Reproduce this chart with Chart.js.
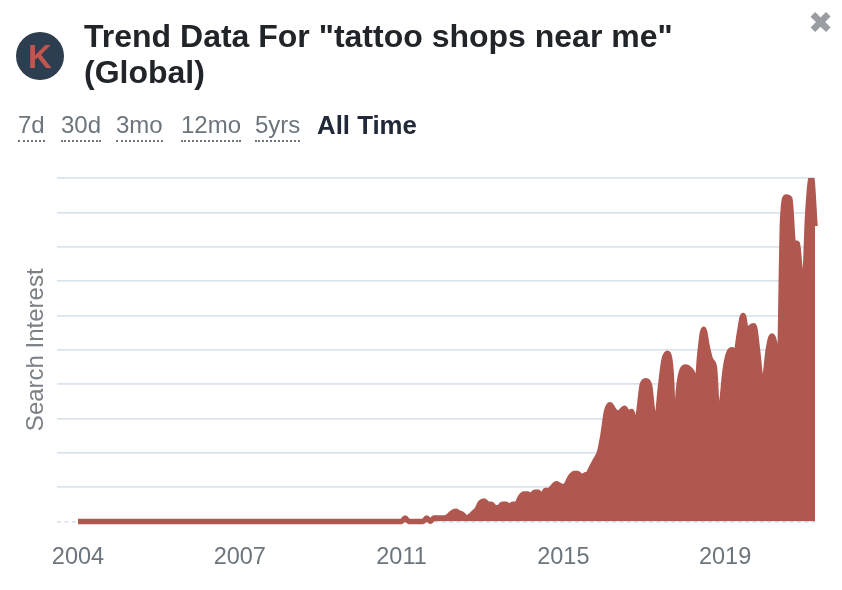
<!DOCTYPE html>
<html>
<head>
<meta charset="utf-8">
<script src="https://cdn.jsdelivr.net/npm/chart.js@4"></script>
<style>
html,body{margin:0;padding:0;background:#fff;width:842px;height:590px;overflow:hidden;font-family:"Liberation Sans",Arial,sans-serif}
#Chart1HTML{position:absolute;left:0;top:0}
.logo{position:absolute;left:16px;top:32px;width:48px;height:48px;border-radius:50%;background:#2c3e50;color:#c0564e;font-size:33px;font-weight:bold;line-height:49px;text-align:center}
h1{position:absolute;left:84px;top:18px;width:640px;margin:0;font-size:32px;line-height:36px;font-weight:bold;color:#212529}
.close{position:absolute;left:808px;top:8px;font:30px/30px "DejaVu Sans";color:#9a9da1}
.tab{position:absolute;top:110px;font-size:24px;line-height:30px;color:#6c757d;border-bottom:2px dotted #6c757d}
.on{color:#212938;font-weight:bold;font-size:25.8px;border:0}
</style>
</head>
<body>
<canvas id="Chart1HTML" width="842" height="590"></canvas>
<div class="logo">K</div>
<h1>Trend Data For "tattoo shops near me" (Global)</h1>
<div class="close">&#10006;</div>
<div class="tab" style="left:18px">7d</div>
<div class="tab" style="left:61px">30d</div>
<div class="tab" style="left:116px">3mo</div>
<div class="tab" style="left:181px">12mo</div>
<div class="tab" style="left:255px">5yrs</div>
<div class="tab on" style="left:317px">All Time</div>
<script>
const TICKYEARS=["2004","2007","2011","2015","2019"]
const TICKPOS=[0,45,90,135,180]
// monthly interest
const INTEREST=[
0,0,0,0,0,0,0,0,0,0,
0,0,0,0,0,0,0,0,0,0,
0,0,0,0,0,0,0,0,0,0,
0,0,0,0,0,0,0,0,0,0,
0,0,0,0,0,0,0,0,0,0,
0,0,0,0,0,0,0,0,0,0,
0,0,0,0,0,0,0,0,0,0,
0,0,0,0,0,0,0,0,0,0,
0,0,0,0,0,0,0,0,0,0,
0,1,0,0,0,0,0,1,0,1,
1,1,1,1.5,2.5,3,2.5,2,1,1.5,
2.5,3.5,5.5,6,5,5,4,4,5,5,
4.5,5,5,7,8,8,7.5,8.5,8.5,7,
9,9,10,11,10.5,10,11,13,14,14,
13,13.5,14,16,18,20,25,32,34,32.5,
31.5,32,33,31.5,32,27,32,40,41,39.5,
31,30,39,47,49,43,20,38,44,45,
44.5,43,38,49,56,51,47,45,30,34,
44,49,50,49,55,60,55,56.5,57,50,
41.5,42,50,54,50.5,40,88,94.5,94,81,
81,72,68,90,100,86
]

let Chart1

function LoadC1(){
 Chart1=new Chart(document.getElementById('Chart1HTML'),{
  type:'line',
  data:{datasets:[{
    data:INTEREST.map((v,i)=>({x:i,y:v})),
    borderColor:'#b05750',
    backgroundColor:'#b05750',
    borderWidth:5.5,
    borderJoinStyle:'round',
    cubicInterpolationMode:'monotone',
    pointRadius:0,
    fill:'origin',
    clip:{left:5,top:0,right:5,bottom:5}
  }]},
  options:{
    responsive:false,
    animation:false,
    layout:{padding:{top:178,right:27,bottom:0,left:0}},
    plugins:{legend:{display:false},tooltip:{enabled:false}},
    scales:{
      x:{
        type:'linear',
        min:-5.84,
        max:205,
        afterBuildTicks:s=>{s.ticks=TICKPOS.map(v=>({value:v}))},
        afterFit:s=>{s.height=68.5},
        grid:{display:false},
        border:{display:false},
        ticks:{
          autoSkip:false,
          maxRotation:0,
          padding:14,
          color:'#6c757d',
          font:{family:'"Liberation Sans"',size:23.5},
          callback:v=>TICKYEARS[TICKPOS.indexOf(v)]
        }
      },
      y:{
        min:0,
        max:100,
        afterFit:s=>{s.width=57},
        grid:{color:'#dbe3ed',lineWidth:1.7,drawTicks:false},
        border:{display:false,dash:c=>c.tick&&c.tick.value===0?[4,3.4]:[]},
        ticks:{display:false,stepSize:10},
        title:{
          display:true,
          text:'Search Interest',
          color:'#7b8086',
          font:{family:'"Liberation Sans"',size:24},
          padding:{top:22,bottom:0}
        }
      }
    }
  }
 })
}

LoadC1()
</script>
</body>
</html>
